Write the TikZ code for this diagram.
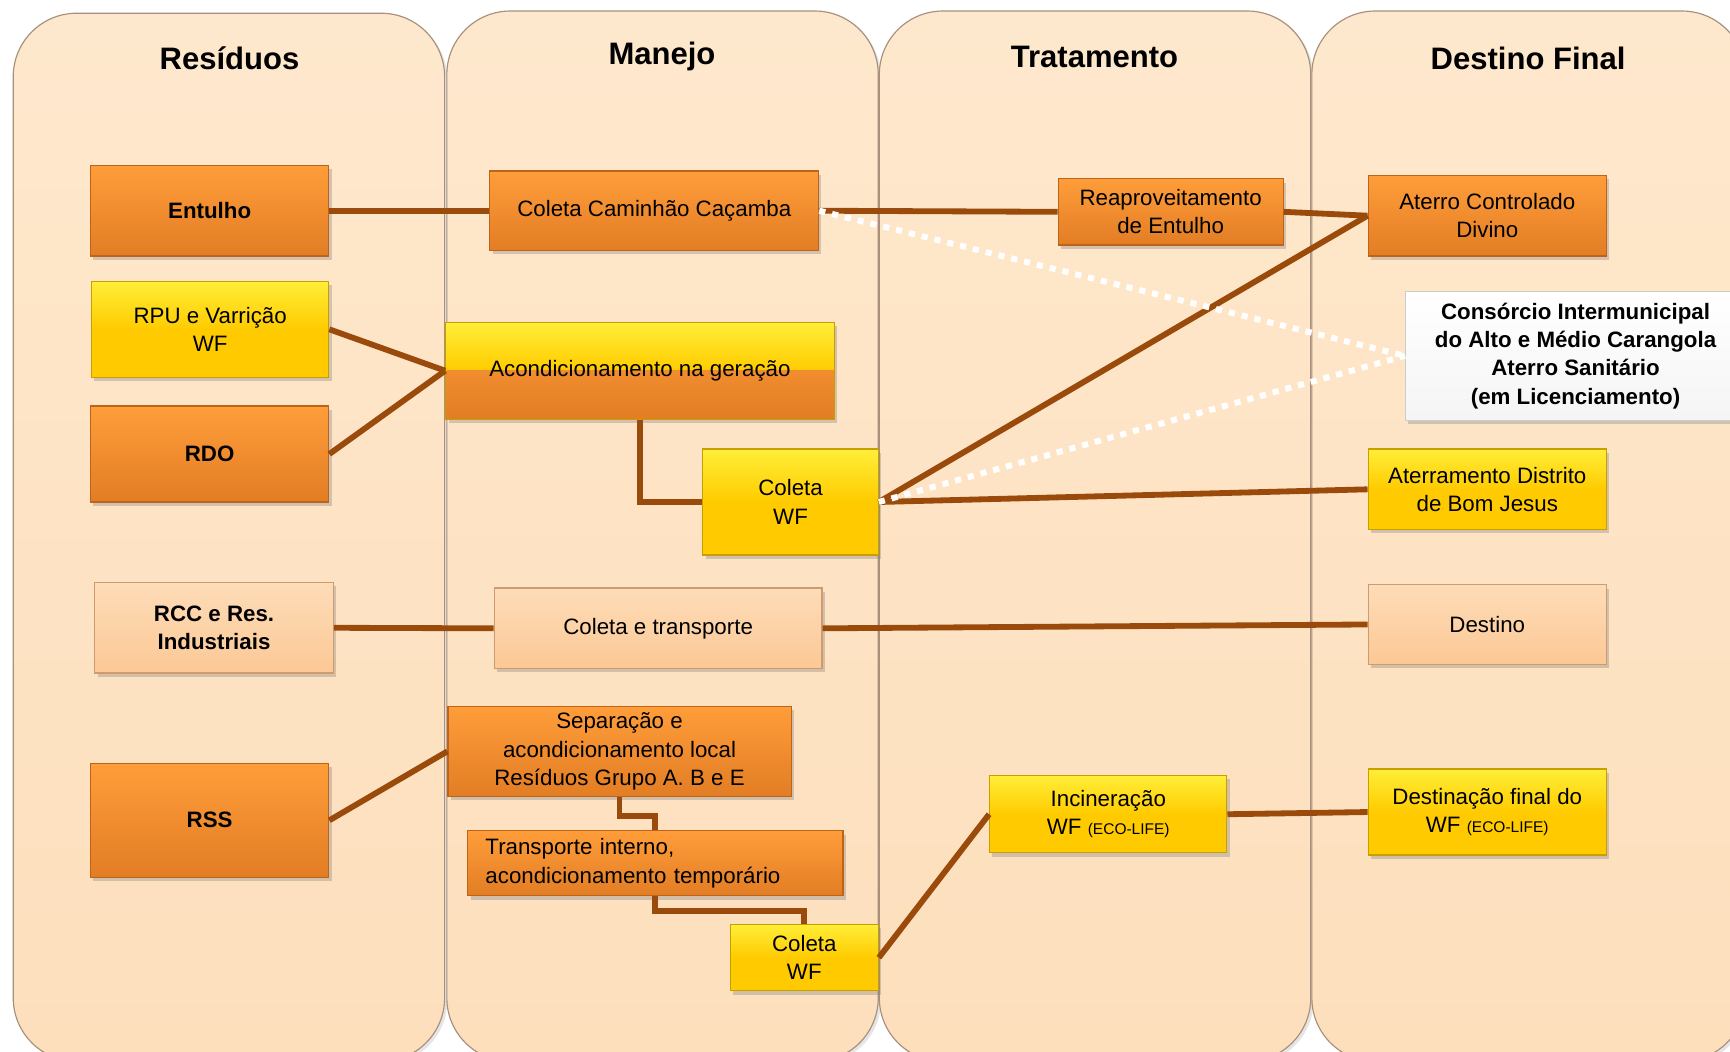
\documentclass[tikz,border=0pt]{standalone}
\usepackage{fontspec}
\setmainfont{Liberation Sans}
\usepackage{xcolor}
\usetikzlibrary{shadows,positioning}

\definecolor{laneTop}{HTML}{FEE8CD}
\definecolor{laneBot}{HTML}{FDDFBC}
\definecolor{laneEdge}{HTML}{A8907C}
\definecolor{orgTop}{HTML}{FF9D3A}
\definecolor{orgBot}{HTML}{E27D24}
\definecolor{orgEdge}{HTML}{BE6418}
\definecolor{ylwTop}{HTML}{FFEE38}
\definecolor{ylwBot}{HTML}{FFCB00}
\definecolor{ylwEdge}{HTML}{C7A000}
\definecolor{pchTop}{HTML}{FDDCB8}
\definecolor{pchBot}{HTML}{FCC895}
\definecolor{pchEdge}{HTML}{CF9B6C}
\definecolor{linkBrown}{HTML}{9A4A0A}

\newcommand{\boxfont}{\fontsize{11.5}{14.6}\selectfont}
\newcommand{\lanefont}{\fontsize{16}{19}\selectfont\bfseries}
\newcommand{\smalltag}[1]{{\fontsize{8}{10}\selectfont #1}}

\begin{document}
\begin{tikzpicture}[x=0.2mm, y=-0.2mm,
    lane/.style={draw=laneEdge, line width=0.6pt, top color=laneTop, bottom color=laneBot,
                 rounded corners=11.5mm,
                 drop shadow={shadow xshift=0.5mm, shadow yshift=-0.5mm, opacity=0.2}},
    lanetitle/.style={font=\lanefont},
    flowbox/.style={inner sep=0pt, align=center, font=\boxfont, line width=0.6pt,
                    drop shadow={shadow xshift=0.5mm, shadow yshift=-0.7mm, opacity=0.35}},
    orangebox/.style={flowbox, draw=orgEdge, top color=orgTop, bottom color=orgBot},
    yellowbox/.style={flowbox, draw=ylwEdge, top color=ylwTop, bottom color=ylwBot,
                      middle color=ylwBot},
    peachbox/.style={flowbox, draw=pchEdge, top color=pchTop, bottom color=pchBot},
    whitebox/.style={flowbox, draw=gray!40, top color=white, bottom color=gray!8},
    link/.style={draw=linkBrown, line width=3pt},
    dotlink/.style={draw=white, line width=3.1pt, dash pattern=on 3.2pt off 3.6pt}]

    \useasboundingbox (0,0) rectangle (1568,953);
    \clip (0,0) rectangle (1568,953);
    \fill[white] (0,0) rectangle (1568,953);

    % swimlanes
    \path[lane] (12,12) rectangle (403,962);
    \path[lane] (405,10) rectangle (796,962);
    \path[lane] (797,10) rectangle (1188,962);
    \path[lane] (1189,10) rectangle (1582,962);
    \node[lanetitle] (hdrRes) at (208,53) {Resíduos};
    \node[lanetitle] (hdrMan) at (600,51) {Manejo};
    \node[lanetitle] (hdrTra) at (992,52) {Tratamento};
    \node[lanetitle] (hdrDes) at (1385,53) {Destino Final};

    % residuos
    \node[orangebox, font=\boxfont\bfseries, minimum width=43.2mm, minimum height=16.4mm]
          (entulho) at (190,191) {Entulho};
    \node[yellowbox, minimum width=43mm, minimum height=17.4mm]
          (rpu) at (190.5,298.5) {RPU e Varrição\\WF};
    \node[orangebox, font=\boxfont\bfseries, minimum width=43.2mm, minimum height=17.4mm]
          (rdo) at (190,411.5) {RDO};
    \node[peachbox, font=\boxfont\bfseries, minimum width=43.2mm, minimum height=16.4mm]
          (rcc) at (194,569) {RCC e Res.\\Industriais};
    \node[orangebox, font=\boxfont\bfseries, minimum width=43.2mm, minimum height=20.6mm]
          (rss) at (190,743.5) {RSS};

    % manejo
    \node[orangebox, minimum width=59.6mm, minimum height=14.4mm]
          (cacamba) at (593,191) {Coleta Caminhão Caçamba};
    \node[yellowbox, minimum width=70.4mm, minimum height=17.6mm,
          path picture={\shade[top color=orgTop, bottom color=orgBot]
              (path picture bounding box.west) rectangle (path picture bounding box.south east);}]
          (acond) at (580,336) {Acondicionamento na geração};
    \node[yellowbox, minimum width=31.8mm, minimum height=19.2mm]
          (coletaA) at (716.5,455) {Coleta\\WF};
    \node[peachbox, minimum width=59.4mm, minimum height=14.6mm]
          (transp) at (596.5,569.5) {Coleta e transporte};
    \node[orangebox, minimum width=62.2mm, minimum height=16.4mm]
          (separa) at (561.5,681) {Separação e\\acondicionamento local\\Resíduos Grupo A. B e E};
    \node[orangebox, align=left, text width=61.6mm, inner xsep=3.2mm, minimum height=11.8mm]
          (interno) at (594,782.5) {Transporte interno,\\acondicionamento temporário};
    \node[yellowbox, minimum width=26.8mm, minimum height=12mm]
          (coletaB) at (729,868) {Coleta\\WF};

    % tratamento
    \node[orangebox, minimum width=40.8mm, minimum height=12mm]
          (reaprov) at (1061,192) {Reaproveitamento\\de Entulho};
    \node[yellowbox, minimum width=43mm, minimum height=14mm]
          (incin) at (1004.5,738) {Incineração\\WF \smalltag{(ECO-LIFE)}};

    % destino final
    \node[orangebox, minimum width=43.2mm, minimum height=14.6mm]
          (aterro) at (1348,195.5) {Aterro Controlado\\Divino};
    \node[whitebox, font=\boxfont\bfseries, minimum width=61.6mm, minimum height=23.4mm]
          (consorcio) at (1428,322.5)
          {Consórcio Intermunicipal\\do Alto e Médio Carangola\\Aterro Sanitário\\(em Licenciamento)};
    \node[yellowbox, minimum width=43.2mm, minimum height=14.6mm]
          (bomjesus) at (1348,443.5) {Aterramento Distrito\\de Bom Jesus};
    \node[peachbox, minimum width=43.2mm, minimum height=14.4mm]
          (destino) at (1348,566) {Destino};
    \node[yellowbox, minimum width=43.2mm, minimum height=15.6mm]
          (destinacao) at (1348,736) {Destinação final do\\WF \smalltag{(ECO-LIFE)}};

    \draw[link] (entulho.east) -- (cacamba.west);
    \draw[link] (cacamba.east) -- (reaprov.west);
    \draw[link] (reaprov.east) -- (aterro.west);
    \draw[link] (rpu.east) -- (acond.west);
    \draw[link] (rdo.east) -- (acond.west);
    \draw[link] (acond.south) |- (coletaA.west);
    \draw[link] (coletaA.east) -- (aterro.west);
    \draw[link] (coletaA.east) -- (bomjesus.west);
    \draw[link] (rcc.east) -- (transp.west);
    \draw[link] (transp.east) -- (destino.west);
    \draw[link] (rss.east) -- (separa.west);
    \draw[link] (separa.south) -- ++(0,17) -| (interno.north);
    \draw[link] (interno.south) -- ++(0,13) -| (coletaB.north);
    \draw[link] (coletaB.east) -- (incin.west);
    \draw[link] (incin.east) -- (destinacao.west);
    \draw[dotlink] (cacamba.east) -- (consorcio.west);
    \draw[dotlink] (coletaA.east) -- (consorcio.west);
\end{tikzpicture}
\end{document}
